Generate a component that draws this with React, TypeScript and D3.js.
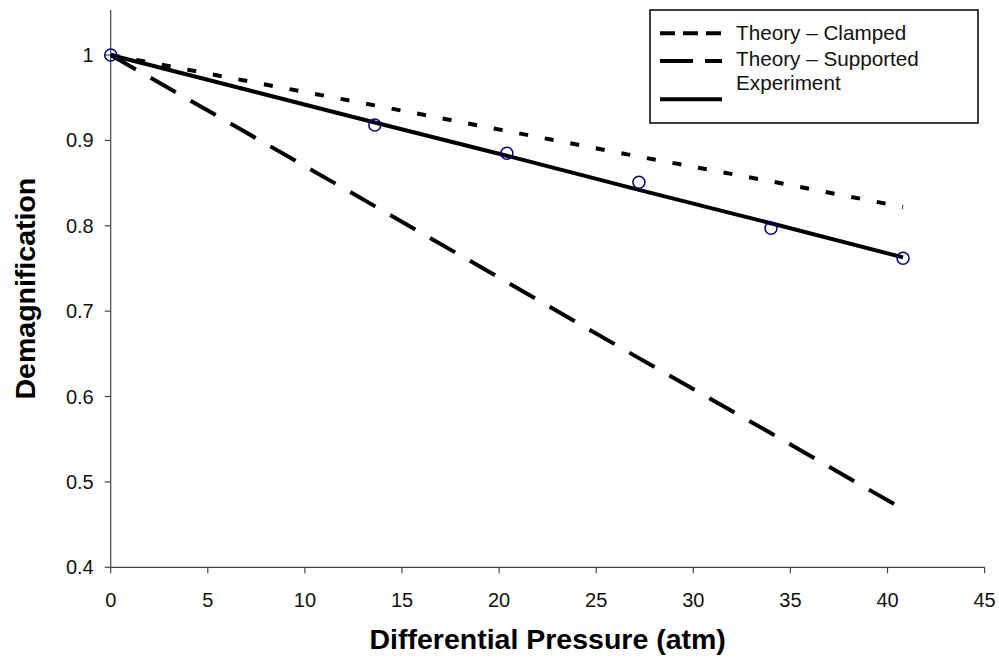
import React from "react";
import * as d3 from "d3";

const pressures = [0, 13.6, 20.4, 27.2, 34.0, 40.8];
const experimentPoints = [1.0, 0.918, 0.885, 0.851, 0.797, 0.762];
const experimentFit = [1.0, 0.921, 0.882, 0.842, 0.803, 0.763];
const theoryClamped = [1.0, 0.941, 0.911, 0.881, 0.852, 0.822];
const theorySupported = [1.0, 0.823, 0.734, 0.645, 0.557, 0.468];
const xTicks = [0, 5, 10, 15, 20, 25, 30, 35, 40, 45];
const yTicks = [0.4, 0.5, 0.6, 0.7, 0.8, 0.9, 1];
const legendLabels = ["Theory \u2013 Clamped", "Theory \u2013 Supported", "Experiment"];

const W = 999;
const H = 658;
const FONT = "Arial, 'Liberation Sans', Helvetica, sans-serif";

export default function App() {
  const x = d3.scaleLinear().domain([0, 45]).range([110.7, 984.6]);
  const y = d3.scaleLinear().domain([0.4, 1]).range([567.3, 55]);
  const yTop = 10;

  const line = d3
    .line<[number, number]>()
    .x((d) => x(d[0]))
    .y((d) => y(d[1]));

  const series = (vals: number[]) => pressures.map((p, i) => [p, vals[i]] as [number, number]);

  const axisColor = "#444";

  return (
    <svg
      width={W}
      height={H}
      style={{ position: "absolute", left: 0, top: 0, background: "#fff" }}
      fontFamily={FONT}
    >
      {/* axes */}
      <line x1={x(0)} x2={x(0)} y1={yTop} y2={y(0.4)} stroke={axisColor} strokeWidth={1.2} />
      <line x1={x(0)} x2={x(45)} y1={y(0.4)} y2={y(0.4)} stroke={axisColor} strokeWidth={1.2} />
      {yTicks.map((t) => (
        <g key={"y" + t}>
          <line x1={x(0) - 6} x2={x(0)} y1={y(t)} y2={y(t)} stroke={axisColor} strokeWidth={1.2} />
          <text x={x(0) - 17} y={y(t)} dy="0.35em" textAnchor="end" fontSize={20} fill="#111">
            {d3.format("~g")(t)}
          </text>
        </g>
      ))}
      {xTicks.map((t) => (
        <g key={"x" + t}>
          <line x1={x(t)} x2={x(t)} y1={y(0.4)} y2={y(0.4) + 6} stroke={axisColor} strokeWidth={1.2} />
          <text x={x(t)} y={607} textAnchor="middle" fontSize={20} fill="#111">
            {t}
          </text>
        </g>
      ))}

      {/* axis titles */}
      <text x={(x(0) + x(45)) / 2} y={649} textAnchor="middle" fontSize={28.5} fontWeight="bold" fill="#000">
        Differential Pressure (atm)
      </text>
      <text
        transform={`translate(35, ${(yTop + y(0.4)) / 2}) rotate(-90)`}
        textAnchor="middle"
        fontSize={28.5}
        fontWeight="bold"
        fill="#000"
      >
        Demagnification
      </text>

      {/* lines */}
      <path d={line(series(theorySupported)) || ""} fill="none" stroke="#000" strokeWidth={4} strokeDasharray="29 17" />
      <path d={line(series(theoryClamped)) || ""} fill="none" stroke="#000" strokeWidth={4} strokeDasharray="9 17" />
      <path d={line(series(experimentFit)) || ""} fill="none" stroke="#000" strokeWidth={4} />

      {/* markers */}
      {pressures.map((p, i) => (
        <circle key={"m" + i} cx={x(p)} cy={y(experimentPoints[i])} r={6} fill="none" stroke="#000080" strokeWidth={1.5} />
      ))}

      {/* legend */}
      <rect x={650} y={10} width={328} height={113} fill="#fff" stroke="#000" strokeWidth={1.5} />
      <line x1={660} x2={722} y1={33.3} y2={33.3} stroke="#000" strokeWidth={4} strokeDasharray="15 8" />
      <line x1={660} x2={722} y1={61} y2={61} stroke="#000" strokeWidth={4} strokeDasharray="33 12" />
      <line x1={660} x2={722} y1={99.3} y2={99.3} stroke="#000" strokeWidth={4} />
      {legendLabels.map((l, i) => (
        <text key={l} x={736} y={[39.5, 66, 90][i]} fontSize={20.7} fill="#111">
          {l}
        </text>
      ))}
    </svg>
  );
}
